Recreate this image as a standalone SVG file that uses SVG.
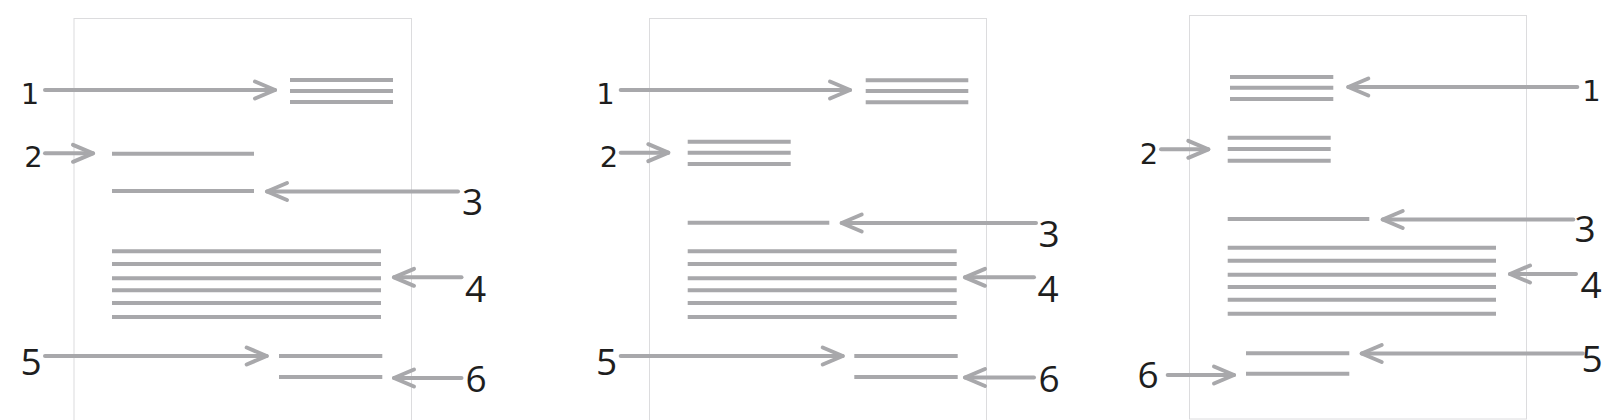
<svg xmlns="http://www.w3.org/2000/svg" width="1617" height="420" viewBox="0 0 1617 420">
<style>
.page{fill:#fff;stroke:#dcdcde;stroke-width:1}
.ln{stroke:#a8a8ab;stroke-width:4;fill:none}
.ar{stroke:#a8a8ab;stroke-width:4;fill:none;stroke-linecap:round}
.s{font-family:"DejaVu Sans",sans-serif;font-size:29px;fill:#1e1e1e;text-anchor:middle}
.L{font-family:"Open Sans","Noto Sans",sans-serif;font-size:37px;fill:#1e1e1e;text-anchor:middle}
</style>
<defs>
<marker id="ah" markerUnits="userSpaceOnUse" viewBox="-24 -12 28 24" markerWidth="28" markerHeight="24" refX="0" refY="0" orient="auto" overflow="visible">
<path d="M-20,-8.5 L0,0 L-20,8.5" fill="none" stroke="#a8a8ab" stroke-width="4" stroke-linecap="round" stroke-linejoin="round"/>
</marker>
</defs>
<rect width="1617" height="420" fill="#fff"/>

<g id="panel1">
<rect id="p1-page" class="page" x="74" y="18.5" width="337.5" height="420"/>
<g id="p1-b1" class="ln"><path d="M290,80H393M290,91H393M290,102H393"/></g>
<g id="p1-b2" class="ln"><path d="M112,153.7H254"/></g>
<g id="p1-b3" class="ln"><path d="M112,191H254"/></g>
<g id="p1-b4" class="ln"><path d="M112,251.3H381M112,264H381M112,278.3H381M112,290.3H381M112,303H381M112,317H381"/></g>
<g id="p1-b5" class="ln"><path d="M279,356H382.3"/></g>
<g id="p1-b6" class="ln"><path d="M279,377H382.3"/></g>
<g id="p1-l1"><text class="s" x="30" y="103.5">1</text></g>
<g id="p1-l2"><text class="s" x="33.5" y="167">2</text></g>
<g id="p1-l3"><text class="L" x="472.5" y="215">3</text></g>
<g id="p1-l4"><text class="L" x="475.5" y="302">4</text></g>
<g id="p1-l5"><text class="L" x="31" y="375">5</text></g>
<g id="p1-l6"><text class="L" x="476" y="392">6</text></g>
</g>

<g id="panel2">
<rect id="p2-page" class="page" x="649.5" y="18.5" width="337" height="420"/>
<g id="p2-b1" class="ln"><path d="M865.7,80.3H968.3M865.7,91H968.3M865.7,102.3H968.3"/></g>
<g id="p2-b2" class="ln"><path d="M687.7,141.7H790.7M687.7,152.7H790.7M687.7,164H790.7"/></g>
<g id="p2-b3" class="ln"><path d="M687.7,222.7H829.3"/></g>
<g id="p2-b4" class="ln"><path d="M687.7,251.3H956.7M687.7,264H956.7M687.7,278.3H956.7M687.7,290.3H956.7M687.7,303H956.7M687.7,317H956.7"/></g>
<g id="p2-b5" class="ln"><path d="M854.3,356H957.7"/></g>
<g id="p2-b6" class="ln"><path d="M854.3,377H957.7"/></g>
<g id="p2-l1"><text class="s" x="605.5" y="103.5">1</text></g>
<g id="p2-l2"><text class="s" x="609" y="167">2</text></g>
<g id="p2-l3"><text class="L" x="1049" y="247">3</text></g>
<g id="p2-l4"><text class="L" x="1048" y="302">4</text></g>
<g id="p2-l5"><text class="L" x="606.5" y="375">5</text></g>
<g id="p2-l6"><text class="L" x="1049" y="392">6</text></g>
</g>

<g id="panel3">
<rect id="p3-page" class="page" x="1189.5" y="15.5" width="337" height="403.5"/>
<g id="p3-b1" class="ln"><path d="M1230,77H1333.3M1230,87.7H1333.3M1230,99H1333.3"/></g>
<g id="p3-b2" class="ln"><path d="M1227.7,137.7H1330.7M1227.7,149H1330.7M1227.7,160.7H1330.7"/></g>
<g id="p3-b3" class="ln"><path d="M1227.7,219H1369.3"/></g>
<g id="p3-b4" class="ln"><path d="M1227.7,247.7H1496M1227.7,260.7H1496M1227.7,274.7H1496M1227.7,287H1496M1227.7,299.7H1496M1227.7,313.7H1496"/></g>
<g id="p3-b5" class="ln"><path d="M1246,353.3H1349.3"/></g>
<g id="p3-b6" class="ln"><path d="M1246,373.7H1349.3"/></g>
<g id="p3-l1"><text class="s" x="1591.5" y="100.5">1</text></g>
<g id="p3-l2"><text class="s" x="1149" y="163.5">2</text></g>
<g id="p3-l3"><text class="L" x="1585" y="242">3</text></g>
<g id="p3-l4"><text class="L" x="1591" y="298">4</text></g>
<g id="p3-l5"><text class="L" x="1592" y="372">5</text></g>
<g id="p3-l6"><text class="L" x="1148" y="388">6</text></g>
</g>

<g id="connectors" class="ar" marker-end="url(#ah)">
<line x1="45" y1="90" x2="275" y2="90"/>
<line x1="45" y1="153.3" x2="93" y2="153.3"/>
<line x1="458" y1="191.5" x2="267" y2="191.5"/>
<line x1="461.5" y1="277.3" x2="394" y2="277.3"/>
<line x1="45" y1="356" x2="266.7" y2="356"/>
<line x1="461.5" y1="378" x2="394" y2="378"/>

<line x1="620.7" y1="90" x2="850" y2="90"/>
<line x1="620.7" y1="152.7" x2="668.3" y2="152.7"/>
<line x1="1036" y1="223" x2="841.7" y2="223"/>
<line x1="1034" y1="277.3" x2="965" y2="277.3"/>
<line x1="620.7" y1="356" x2="842.7" y2="356"/>
<line x1="1034" y1="377.5" x2="965" y2="377.5"/>

<line x1="1577.3" y1="87" x2="1348.3" y2="87"/>
<line x1="1161" y1="149.3" x2="1208.3" y2="149.3"/>
<line x1="1573.3" y1="219.5" x2="1382.7" y2="219.5"/>
<line x1="1576" y1="274" x2="1510" y2="274"/>
<line x1="1583" y1="353.5" x2="1361.7" y2="353.5"/>
<line x1="1167.7" y1="375" x2="1234" y2="375"/>
</g>
</svg>
